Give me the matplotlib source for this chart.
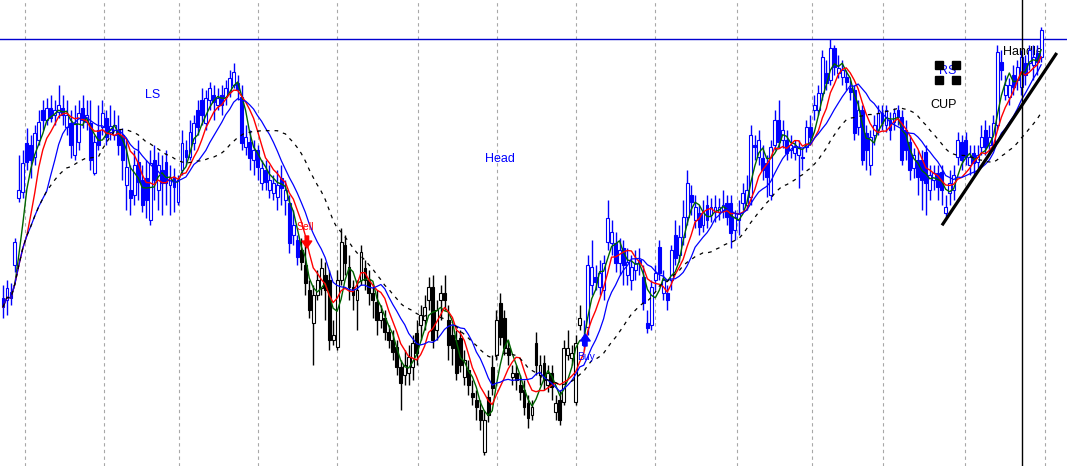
import matplotlib.pyplot as plt
import numpy as np
import pandas as pd

plt.rcParams['font.family'] = ['Liberation Sans', 'DejaVu Sans']

# daily candles (price units)
open_ = [
    202, 200, 208, 235, 302, 308, 357, 355, 343, 360,
    390, 380, 392, 385, 388, 392, 373, 377, 345, 358,
    392, 378, 377, 327, 370, 373, 382, 368, 365, 370,
    365, 315, 310, 305, 338, 320, 322, 280, 340, 310,
    330, 338, 315, 323, 298, 330, 350, 343, 357, 390,
    400, 377, 400, 405, 395, 405, 403, 408, 415, 417,
    403, 353, 358, 340, 350, 317, 330, 310, 307, 303,
    322, 300, 297, 265, 260, 250, 235, 210, 177, 205,
    212, 225, 220, 160, 153, 220, 255, 233, 213, 200,
    220, 232, 220, 207, 198, 180, 182, 168, 160, 153,
    133, 125, 127, 133, 167, 175, 180, 200, 213, 170,
    200, 207, 180, 165, 160, 162, 123, 130, 107, 100,
    90, 48, 103, 133, 145, 197, 182, 152, 123, 127,
    115, 110, 97, 85, 157, 125, 137, 115, 127, 88,
    100, 98, 145, 142, 98, 175, 163, 173, 215, 223,
    213, 210, 258, 257, 257, 237, 252, 225, 220, 230,
    240, 223, 177, 175, 220, 253, 207, 207, 220, 265,
    245, 263, 283, 305, 280, 287, 275, 295, 285, 288,
    288, 290, 297, 297, 270, 280, 297, 295, 303, 355,
    343, 342, 337, 305, 355, 380, 360, 360, 350, 347,
    345, 343, 353, 373, 390, 390, 407, 427, 420, 452,
    427, 423, 423, 412, 410, 373, 390, 367, 335, 365,
    370, 387, 375, 380, 378, 390, 383, 370, 358, 332,
    340, 340, 348, 310, 320, 327, 328, 287, 307, 310,
    343, 358, 360, 335, 347, 338, 353, 370, 355, 353,
    375, 438, 405, 403, 425, 420, 413, 437, 437, 435,
    447, 443,
]
close = [
    193, 212, 202, 258, 310, 337, 338, 340, 367, 378,
    380, 392, 382, 390, 395, 385, 385, 355, 377, 387,
    380, 385, 340, 358, 355, 387, 363, 374, 375, 355,
    340, 333, 302, 335, 318, 295, 300, 337, 320, 335,
    317, 317, 323, 313, 320, 357, 343, 368, 377, 373,
    385, 402, 412, 398, 402, 395, 412, 422, 428, 410,
    357, 363, 342, 350, 333, 332, 318, 320, 317, 315,
    312, 310, 257, 275, 243, 238, 217, 190, 205, 220,
    232, 210, 160, 165, 220, 258, 237, 213, 205, 210,
    248, 220, 207, 200, 180, 188, 168, 160, 148, 133,
    117, 135, 143, 157, 147, 185, 193, 213, 160, 190,
    207, 200, 155, 152, 127, 135, 140, 115, 103, 93,
    80, 80, 85, 112, 180, 163, 152, 145, 127, 120,
    108, 93, 82, 93, 135, 135, 120, 127, 113, 97,
    80, 152, 152, 147, 157, 182, 155, 235, 233, 218,
    227, 237, 282, 268, 237, 250, 235, 238, 233, 237,
    237, 197, 172, 213, 227, 227, 220, 200, 250, 242,
    263, 283, 317, 298, 293, 273, 288, 280, 293, 293,
    293, 295, 283, 267, 283, 287, 307, 310, 365, 353,
    360, 330, 323, 353, 380, 358, 370, 347, 355, 353,
    352, 342, 373, 363, 395, 407, 443, 417, 452, 433,
    432, 430, 418, 408, 367, 390, 340, 350, 363, 375,
    387, 377, 390, 370, 387, 383, 340, 350, 330, 345,
    323, 320, 317, 325, 327, 313, 310, 293, 317, 325,
    360, 340, 343, 343, 337, 345, 363, 353, 363, 377,
    448, 430, 415, 415, 413, 433, 443, 425, 450, 443,
    438, 470,
]
high = [
    215, 220, 217, 262, 345, 350, 372, 365, 375, 390,
    400, 402, 405, 400, 415, 405, 400, 390, 395, 400,
    405, 400, 400, 365, 395, 400, 390, 395, 390, 385,
    372, 360, 335, 350, 360, 335, 340, 350, 355, 348,
    345, 350, 335, 332, 325, 370, 360, 380, 385, 400,
    412, 410, 418, 415, 412, 415, 420, 430, 437, 425,
    415, 375, 370, 360, 355, 340, 340, 335, 325, 330,
    335, 320, 305, 290, 265, 262, 260, 220, 215, 230,
    242, 238, 230, 180, 230, 272, 265, 245, 220, 220,
    255, 240, 230, 215, 210, 195, 190, 175, 170, 160,
    140, 150, 155, 165, 180, 195, 205, 223, 225, 200,
    215, 225, 195, 175, 170, 170, 150, 140, 120, 110,
    100, 90, 110, 145, 190, 207, 190, 160, 135, 135,
    125, 120, 105, 100, 168, 145, 145, 135, 135, 105,
    110, 160, 170, 155, 165, 195, 180, 245, 260, 235,
    240, 245, 300, 280, 268, 262, 260, 252, 245, 250,
    252, 235, 190, 220, 235, 260, 230, 215, 255, 280,
    275, 300, 330, 315, 305, 295, 300, 305, 302, 305,
    302, 310, 305, 305, 290, 300, 317, 325, 375, 365,
    370, 355, 345, 360, 390, 400, 380, 370, 365, 360,
    360, 352, 380, 385, 405, 415, 450, 440, 461, 455,
    445, 440, 430, 420, 415, 400, 395, 375, 370, 385,
    395, 395, 395, 388, 392, 395, 390, 380, 365, 352,
    350, 350, 355, 335, 335, 335, 335, 305, 330, 335,
    368, 365, 368, 355, 355, 355, 375, 380, 375, 385,
    455, 450, 425, 422, 435, 440, 450, 445, 455, 455,
    455, 473,
]
low = [
    182, 185, 195, 228, 298, 302, 330, 322, 335, 355,
    370, 375, 378, 375, 382, 375, 365, 342, 340, 350,
    372, 370, 330, 325, 350, 365, 355, 360, 360, 345,
    320, 290, 285, 295, 300, 288, 282, 275, 300, 290,
    285, 295, 285, 288, 295, 325, 335, 340, 350, 365,
    375, 370, 390, 380, 390, 385, 395, 403, 412, 400,
    350, 345, 330, 325, 320, 310, 310, 302, 300, 290,
    295, 285, 247, 255, 235, 230, 205, 182, 135, 200,
    205, 180, 150, 155, 150, 215, 225, 200, 190, 170,
    215, 210, 195, 182, 165, 172, 160, 152, 140, 125,
    90, 115, 115, 120, 135, 160, 170, 190, 152, 160,
    180, 190, 140, 135, 120, 128, 115, 105, 95, 80,
    70, 45, 78, 105, 140, 155, 145, 135, 115, 110,
    100, 85, 72, 80, 125, 115, 110, 108, 100, 80,
    75, 95, 140, 135, 95, 170, 150, 165, 205, 210,
    205, 200, 250, 245, 228, 225, 215, 215, 210, 220,
    225, 190, 167, 170, 210, 220, 200, 190, 210, 235,
    238, 255, 275, 285, 272, 265, 268, 272, 278, 278,
    280, 282, 275, 252, 260, 265, 290, 290, 295, 340,
    335, 320, 303, 300, 350, 352, 352, 340, 342, 340,
    312, 330, 348, 355, 380, 385, 400, 410, 415, 425,
    422, 415, 410, 400, 360, 365, 335, 330, 325, 355,
    365, 370, 368, 360, 370, 375, 335, 340, 320, 322,
    305, 290, 285, 300, 310, 300, 295, 283, 295, 300,
    335, 330, 335, 325, 325, 330, 345, 345, 345, 350,
    370, 420, 400, 395, 405, 410, 405, 415, 430, 420,
    425, 438,
]

# candle index where each calendar period starts (vertical grid)
period_starts = [5.5, 25.3, 44.2, 64.1, 83.9, 104.3, 124.2, 144.0,
                 163.9, 184.5, 203.3, 221.3, 241.9, 262.0]

# drawing objects
resistance = 460.7
cursor_idx = 256.3
trend_x = [236.3, 264.7]
trend_y = [276.0, 445.7]
sell_idx, buy_idx = 76.4, 146.4
bear_start, bear_end = 75, 146   # candles drawn black in between

labels = ['LS', 'Head', 'RS', 'CUP', 'Handle']
label_x = [37.6, 125.0, 237.5, 236.4, 256.5]
label_y = [404.5, 340.5, 428.7, 394.7, 448.0]
label_colors = ['#0000ff', '#0000ff', '#0000ff', 'black', 'black']
label_sizes = [9, 9, 9, 9, 9]

o = np.array(open_, dtype=float)
c = np.array(close, dtype=float)
h = np.array(high, dtype=float)
l = np.array(low, dtype=float)
x = np.arange(len(c))

fig = plt.figure(figsize=(10.67, 4.66), dpi=100)
ax = fig.add_axes([0, 0, 1, 1])

col = np.where((x >= bear_start) & (x < bear_end), 'black', '#0000ff')
ax.vlines(x, l, h, colors=col, lw=1, zorder=2)
up = c >= o
face = np.where(up, 'white', col)
body_h = np.maximum(np.abs(c - o), 1.0)
ax.bar(x, body_h, 0.72, bottom=np.minimum(o, c), color=face.tolist(),
       edgecolor=col.tolist(), linewidth=0.8, zorder=3)

s = pd.Series(c)
ax.plot(x, s.rolling(4, min_periods=1).mean(), color='#006400', lw=1, zorder=4)
ax.plot(x, s.rolling(7, min_periods=1).mean(), color='#ff0000', lw=1, zorder=4)
ax.plot(x, s.rolling(12, min_periods=1).mean(), color='#0000ff', lw=0.9, zorder=4)
ax.plot(x, s.rolling(25, min_periods=1).mean(), color='black', lw=0.9,
        linestyle=(0, (3, 4)), zorder=4)

ax.axhline(resistance, color='#0000d0', lw=1, zorder=1)
ax.axvline(cursor_idx, color='black', lw=1, zorder=5)
ax.plot(trend_x, trend_y, color='black', lw=2.3, zorder=5)

for t, tx, ty, tc, fs in zip(labels, label_x, label_y, label_colors, label_sizes):
    ax.text(tx, ty, t, color=tc, fontsize=fs, ha='center', va='center', zorder=1)

# selection handles around the RS label
rs_x, rs_y = label_x[2], label_y[2]
ax.plot([rs_x - 2.2, rs_x + 2.1, rs_x - 2.2, rs_x + 2.1],
        [rs_y + 6.8, rs_y + 6.8, rs_y - 8.4, rs_y - 8.4],
        ls='none', marker='s', ms=5.3, color='black', zorder=6)

# signals
ax.text(sell_idx - 0.5, 273, 'Sell', color='red', fontsize=7.5,
        ha='center', va='center', zorder=6)
ax.annotate('', xy=(sell_idx, 252), xytext=(sell_idx, 264),
            arrowprops=dict(facecolor='red', edgecolor='red', width=2.5,
                            headwidth=7, headlength=5, shrink=0), zorder=6)
ax.text(buy_idx + 0.3, 143.5, 'Buy', color='#0000ff', fontsize=7.5,
        ha='center', va='center', zorder=6)
ax.annotate('', xy=(buy_idx, 166), xytext=(buy_idx, 154),
            arrowprops=dict(facecolor='#0000ff', edgecolor='#0000ff', width=2.5,
                            headwidth=7, headlength=5, shrink=0), zorder=6)

ax.set_xlim(-0.75, 267.5)
ax.set_ylim(34, 500)
ax.set_xticks(period_starts)
ax.set_yticks([])
ax.xaxis.grid(True, color='#a8a8a8', linestyle=(0, (3, 3)), lw=0.8)
ax.set_axisbelow(True)
ax.tick_params(length=0, labelbottom=False, labelleft=False)
for sp in ax.spines.values():
    sp.set_visible(False)

fig.savefig('out.png', dpi=100, facecolor='white')
